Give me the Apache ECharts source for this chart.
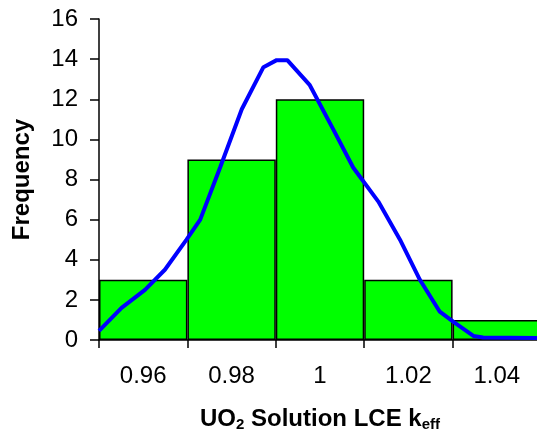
<!DOCTYPE html>
<html>
<head>
<meta charset="utf-8">
<script src="https://cdn.jsdelivr.net/npm/echarts@6/dist/echarts.min.js"></script>
<style>
html,body{margin:0;padding:0;background:#fff;}
#chart{width:537px;height:437px;}
</style>
</head>
<body>
<div id="chart"></div>
<script>
// Histogram bins (labels at bin centres)
var categories = ['0.96', '0.98', '1', '1.02', '1.04'];
var frequencies = [3, 9, 12, 3, 1];
// Fitted curve: [k_eff, frequency]
var curveX = [0.950, 0.9551, 0.9604, 0.9649, 0.9698, 0.9729, 0.9774, 0.9823, 0.9872, 0.9902, 0.9926, 0.9977, 1.0030, 1.0075, 1.0132, 1.0181, 1.0226, 1.0271, 1.0302, 1.0347, 1.0369, 1.050];
var curveY = [0.45, 1.6, 2.5, 3.5, 5.0, 6.0, 8.6, 11.5, 13.6, 13.95, 13.95, 12.7, 10.5, 8.6, 6.9, 5.0, 3.0, 1.41, 0.9, 0.2, 0.12, 0.1];
var yTicks = {min: 0, max: 16, interval: 2};

var curveData = curveX.map(function (x, i) { return [x, curveY[i]]; });
var FONT = '"Liberation Sans", Arial, sans-serif';

var chart = echarts.init(document.getElementById('chart'), null, {renderer: 'canvas'});
chart.setOption({
  animation: false,
  backgroundColor: '#ffffff',
  grid: {left: 99, top: 19, height: 321, width: 442, containLabel: false, outerBoundsMode: 'none'},
  xAxis: [{
    type: 'category',
    data: categories,
    boundaryGap: true,
    axisLine: {show: true, lineStyle: {color: '#000', width: 1.5}},
    axisTick: {show: true, length: 8, alignWithLabel: false, lineStyle: {color: '#000', width: 1.5}},
    axisLabel: {color: '#000', fontFamily: FONT, fontSize: 24, margin: 24},
    splitLine: {show: false},
    name: '{b|UO}{s|2}{b| Solution LCE k}{s|eff}',
    nameLocation: 'middle',
    nameGap: 67,
    nameTextStyle: {
      rich: {
        b: {fontFamily: FONT, fontSize: 24, fontWeight: 'bold', color: '#000'},
        s: {fontFamily: FONT, fontSize: 15, fontWeight: 'bold', color: '#000', padding: [10, 0, 0, 0]}
      }
    }
  }, {
    type: 'value',
    min: 0.95,
    max: 1.05,
    show: false
  }],
  yAxis: {
    type: 'value',
    min: yTicks.min,
    max: yTicks.max,
    interval: yTicks.interval,
    axisLine: {show: true, lineStyle: {color: '#000', width: 1.5}},
    axisTick: {show: true, length: 9, lineStyle: {color: '#000', width: 1.5}},
    axisLabel: {color: '#000', fontFamily: FONT, fontSize: 24, margin: 21},
    splitLine: {show: false},
    name: 'Frequency',
    nameLocation: 'middle',
    nameGap: 65,
    nameTextStyle: {fontFamily: FONT, fontSize: 24, fontWeight: 'bold', color: '#000'}
  },
  series: [{
    type: 'bar',
    xAxisIndex: 0,
    data: frequencies,
    barCategoryGap: '0%',
    itemStyle: {color: '#00ff00', borderColor: '#000', borderWidth: 1.5},
    z: 2
  }, {
    type: 'line',
    xAxisIndex: 1,
    data: curveData,
    showSymbol: false,
    smooth: false,
    lineStyle: {color: '#0000ff', width: 4},
    z: 3
  }]
});
</script>
</body>
</html>
